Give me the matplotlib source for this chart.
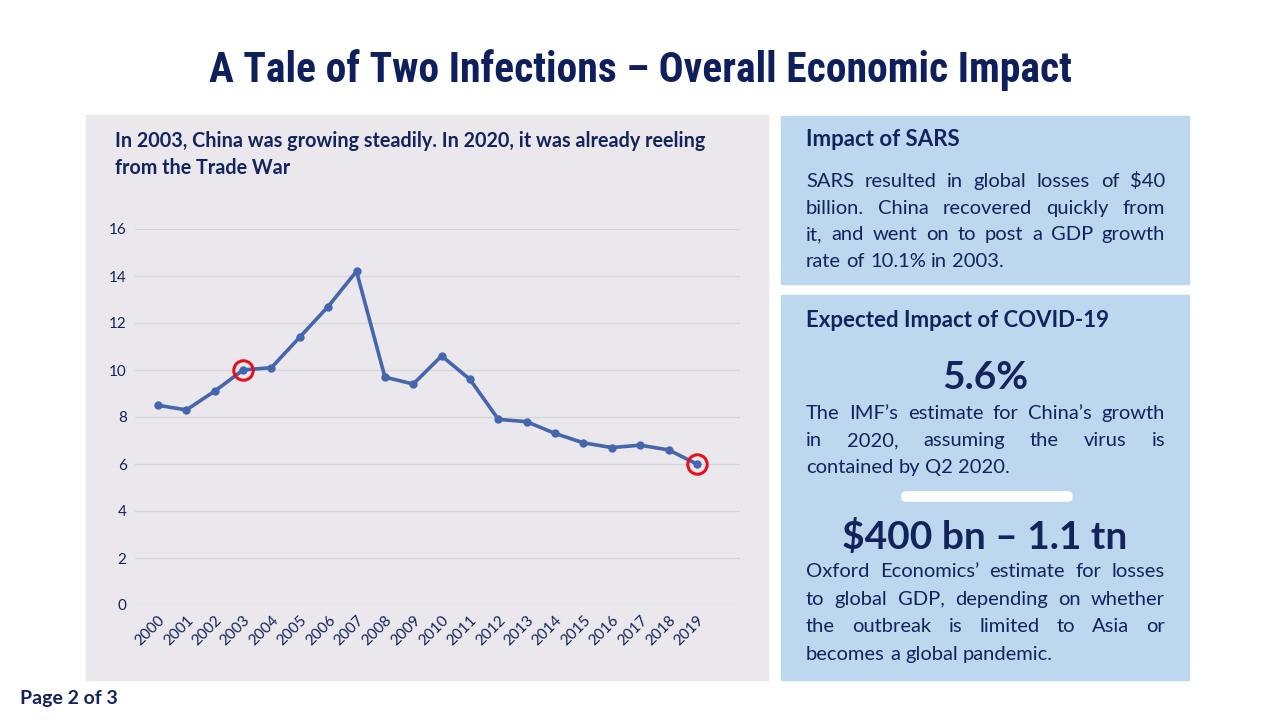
import matplotlib
matplotlib.use("Agg")
import matplotlib.pyplot as plt
from matplotlib.patches import Rectangle, FancyBboxPatch

# China GDP growth (%)
years = [str(y) for y in range(2000, 2020)]
growth = [8.5, 8.3, 9.1, 10.0, 10.1, 11.4, 12.7, 14.2, 9.7, 9.4,
          10.6, 9.6, 7.9, 7.8, 7.3, 6.9, 6.7, 6.8, 6.6, 6.0]
highlight = ["2003", "2019"]
yticks = [0, 2, 4, 6, 8, 10, 12, 14, 16]

title = "A Tale of Two Infections – Overall Economic Impact"
subtitle = ["In 2003, China was growing steadily. In 2020, it was already reeling",
            "from the Trade War"]
sars_head = "Impact of SARS"
sars_body = ["SARS resulted in global losses of $40",
             "billion. China recovered quickly from",
             "it, and went on to post a GDP growth",
             "rate of 10.1% in 2003."]
covid_head = "Expected Impact of COVID-19"
big1 = "5.6%"
body1 = ["The IMF’s estimate for China’s growth",
         "in 2020, assuming the virus is",
         "contained by Q2 2020."]
big2 = "$400 bn – 1.1 tn"
body2 = ["Oxford Economics’ estimate for losses",
         "to global GDP, depending on whether",
         "the outbreak is limited to Asia or",
         "becomes a global pandemic."]

NAVY = "#13235B"
W, H = 1280, 720
BODY = "Lato"

fig = plt.figure(figsize=(12.8, 7.2), dpi=100)
fig.patch.set_facecolor("white")


def fx(x):
    return x / W


def fy(y):
    return 1 - y / H


# panels (behind the axes)
fig.patches.append(Rectangle((fx(86), fy(680)), 682 / W, 565 / H,
                             transform=fig.transFigure, color="#EAE8EC", zorder=-2))
fig.patches.append(Rectangle((fx(781), fy(284)), 408 / W, 168 / H,
                             transform=fig.transFigure, color="#BDD7EE", zorder=-2))
fig.patches.append(Rectangle((fx(781), fy(680)), 408 / W, 385 / H,
                             transform=fig.transFigure, color="#BDD7EE", zorder=-2))
fig.patches.append(FancyBboxPatch((fx(906), fy(499)), 162 / W, 5 / H,
                                  boxstyle="round,pad=0.003,rounding_size=0.004",
                                  transform=fig.transFigure, color="white", zorder=-1))

renderer = fig.canvas.get_renderer()

t = fig.text(0.5, fy(82), title, ha="center", va="baseline", fontsize=40,
             fontweight="bold", color="#0F1F5C",
             family=["Roboto Condensed", "Liberation Sans Narrow", "Roboto"])
tw = t.get_window_extent(renderer).width
if tw > 860:
    t.set_fontsize(40 * 860 / tw)

fig.text(fx(20), fy(704), "Page 2 of 3", fontsize=14, fontweight="bold",
         color=NAVY, family=BODY, va="baseline")

for i, s in enumerate(subtitle):
    fig.text(fx(115), fy(147 + 27 * i), s, fontsize=14.2, fontweight="bold",
             color=NAVY, family=BODY, va="baseline")

# chart
ax = fig.add_axes([fx(135), fy(605), (740 - 135) / W, (605 - 229) / H])
ax.set_facecolor("none")
x = list(range(len(years)))
ax.plot(x, growth, color="#4565AD", lw=2.6, marker="o", ms=5, zorder=3, clip_on=False)
hx = [years.index(h) for h in highlight]
ax.plot(hx, [growth[i] for i in hx], ls="none", marker="o", ms=14, mfc="none",
        mec="#E3121B", mew=2.2, zorder=4, clip_on=False)
ax.set_ylim(0, 16)
ax.set_xlim(-0.81, 20.52)
ax.set_yticks(yticks)
ax.set_xticks(x)
ax.set_xticklabels(years, rotation=45, ha="right", rotation_mode="anchor")
ax.grid(axis="y", color="#D5D5D8", lw=1)
ax.set_axisbelow(True)
for sp in ax.spines.values():
    sp.set_visible(False)
ax.tick_params(length=0, labelsize=11, labelcolor=NAVY, pad=6)
for lab in ax.get_xticklabels() + ax.get_yticklabels():
    lab.set_family(BODY)


def para(lines, x0, x1, y0, dy, size):
    for i, line in enumerate(lines):
        words = line.split()
        y = fy(y0 + dy * i)
        ts = [fig.text(0, y, w, fontsize=size, color=NAVY, family=BODY, va="baseline")
              for w in words]
        ws = [t.get_window_extent(renderer).width for t in ts]
        last = i == len(lines) - 1
        if last or len(words) == 1:
            gap = size * 0.26 * 100 / 72
        else:
            gap = (x1 - x0 - sum(ws)) / (len(words) - 1)
        xx = x0
        for t, w in zip(ts, ws):
            t.set_x(fx(xx))
            xx += w + gap


fig.text(fx(806), fy(146), sars_head, fontsize=16, fontweight="bold",
         color=NAVY, family=BODY, va="baseline")
para(sars_body, 806, 1165, 187, 26.7, 14.5)

fig.text(fx(806), fy(327), covid_head, fontsize=16, fontweight="bold",
         color=NAVY, family=BODY, va="baseline")
fig.text(fx(985), fy(389), big1, fontsize=28, fontweight="bold",
         color=NAVY, family=BODY, ha="center", va="baseline")
para(body1, 806, 1165, 419, 27, 14.5)
fig.text(fx(985), fy(549), big2, fontsize=28, fontweight="bold",
         color=NAVY, family=BODY, ha="center", va="baseline")
para(body2, 806, 1165, 577, 27.7, 14.5)

fig.savefig("out.png", dpi=100, facecolor="white")
